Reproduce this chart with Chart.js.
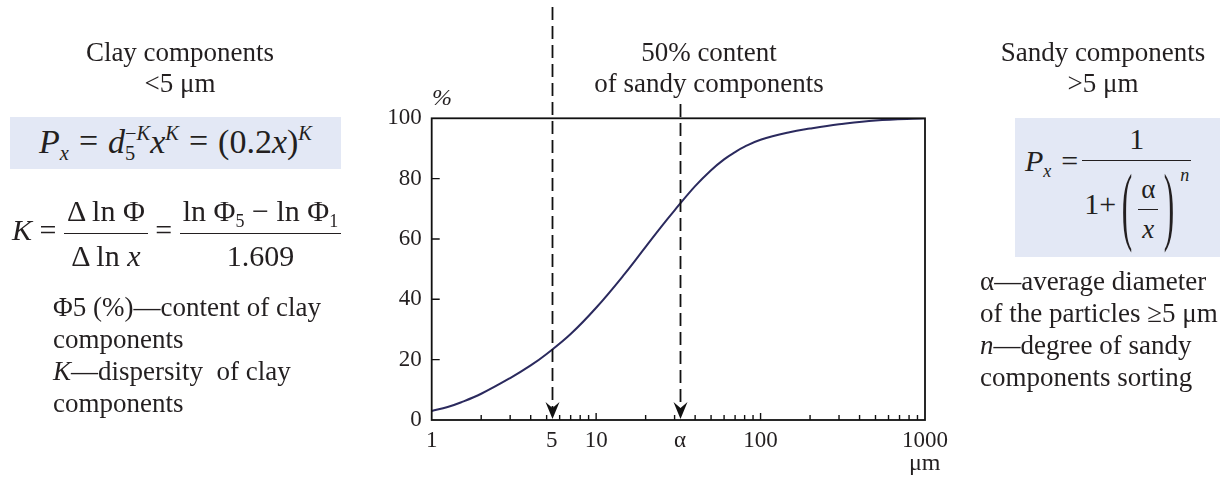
<!DOCTYPE html>
<html>
<head>
<meta charset="utf-8">
<script src="https://cdn.jsdelivr.net/npm/chart.js@4.4.1/dist/chart.umd.min.js"></script>
<style>
  html,body{margin:0;padding:0;background:#fff;}
  body{width:1220px;height:479px;position:relative;overflow:hidden;font-family:"Liberation Serif","Times New Roman",serif;color:#231f20;}
  #c{position:absolute;left:0;top:0;}
  .t{position:absolute;white-space:nowrap;font-size:27px;line-height:32px;}
  .ctr{text-align:center;}
  .box{position:absolute;background:#e3e8f5;display:flex;align-items:center;}
  .f{white-space:nowrap;line-height:1;}
  .sb{font-size:0.6em;line-height:0;vertical-align:-0.36em;}
  .sp{font-size:0.6em;line-height:0;vertical-align:0.62em;}
  .ss{display:inline-flex;flex-direction:column;font-size:0.6em;line-height:1.0;vertical-align:0.62em;}
  .fr{display:inline-flex;flex-direction:column;align-items:center;}
  .fr>.n{padding:0 3px;}
  .fr>.d{border-top:1.5px solid #231f20;padding:0 3px;width:100%;text-align:center;box-sizing:border-box;}
  .bp{display:inline-block;transform:scale(1.05,2.9);margin:0 6px;}
  .op{padding:0 10px;}
</style>
</head>
<body>
<canvas id="c" width="1220" height="479"></canvas>

<!-- left column -->
<div class="t ctr" style="left:50px;top:37px;width:260px;line-height:31px;">Clay components<br>&lt;5 μm</div>
<div class="box" style="left:10px;top:117px;width:331px;height:52px;justify-content:center;">
  <span class="f" style="font-size:34px;"><i>P</i><span class="sb"><i>x</i></span><span class="op">=</span><i>d</i><span class="ss"><span>−<i>K</i></span><span>5</span></span><i>x</i><span class="sp"><i>K</i></span><span class="op">=</span>(0.2<i>x</i>)<span class="sp"><i>K</i></span></span>
</div>
<div class="t f" style="left:12px;top:196px;font-size:30px;line-height:1;">
  <i>K</i> = <span class="fr" style="vertical-align:19px;"><span class="n" style="padding-bottom:7px;">Δ ln Φ</span><span class="d" style="padding-top:7px;">Δ ln <i>x</i></span></span> = <span class="fr" style="vertical-align:19px;"><span class="n" style="padding-bottom:7px;">ln Φ<span class="sb">5</span> − ln Φ<span class="sb">1</span></span><span class="d" style="padding-top:7px;">1.609</span></span>
</div>
<div class="t" style="left:53px;top:291px;">Φ5 (%)—content of clay<br>components<br><i>K</i>—dispersity&nbsp; of clay<br>components</div>

<!-- middle -->
<div class="t ctr" style="left:579px;top:37px;width:260px;line-height:31px;">50% content<br>of sandy components</div>
<div class="t" style="left:432px;top:84px;font-size:24px;line-height:26px;"><i>%</i></div>
<div class="t" style="left:909px;top:449px;font-size:24px;line-height:26px;">μm</div>

<!-- right column -->
<div class="t ctr" style="left:973px;top:37px;width:260px;line-height:31px;">Sandy components<br>&gt;5 μm</div>
<div class="box" style="left:1015px;top:118px;width:205px;height:139px;justify-content:flex-start;">
  <span class="f" style="font-size:30px;padding-left:10px;position:relative;top:-4px;"><i>P</i><span class="sb"><i>x</i></span><span class="op" style="padding:0 4px 0 10px;">=</span><span class="fr" style="vertical-align:22px;"><span class="n" style="padding-bottom:6px;">1</span><span class="d" style="padding:14px 2px 0 2px;">1+<span class="bp">(</span><span class="fr" style="font-size:27px;vertical-align:17px;"><span class="n" style="padding-bottom:6px;">α</span><span class="d" style="padding-top:6px;"><i>x</i></span></span><span class="bp">)</span><span style="font-size:0.6em;vertical-align:1.85em;line-height:0;"><i>n</i></span></span></span></span>
</div>
<div class="t" style="left:980px;top:265px;">α—average diameter<br>of the particles ≥5 μm<br><i>n</i>—degree of sandy<br>components sorting</div>

<script>
// ---- data ----
const sizes   = [1, 1.25, 1.5, 2, 3, 4, 5, 7, 10, 15, 20, 25, 30, 40, 50, 60, 70, 80, 100, 150, 200, 300, 500, 1000]; // µm
const content = [3, 4.3, 5.8, 8.7, 13.9, 18.1, 21.9, 28.5, 37.2, 48.6, 57.4, 64.2, 69.5, 77.5, 82.8, 86.4, 88.8, 90.6, 92.9, 95.4, 96.6, 98, 99.3, 100]; // %
const xTickValues = [1, 5.37, 10, 32.4, 100, 1000];
const xTickLabels = ['1', '5', '10', 'α', '100', '1000'];
const yTickValues = [0, 20, 40, 60, 80, 100];
const minorXTicks = [2,3,4,5,6,7,8,9,20,30,40,50,60,70,80,90,200,300,400,500,600,700,800,900];
const majorXTicks = [10, 100];
const markerSizes = [5.37, 32.4];   // dashed arrows: d5 and alpha

const INK = '#231f20';
const FONT = {family: "'Liberation Serif','Times New Roman',serif", size: 23};

const decor = {
  id: 'decor',
  afterDraw(chart) {
    const {ctx, chartArea: a, scales: {x, y}} = chart;
    ctx.save();
    ctx.strokeStyle = '#111';
    ctx.lineWidth = 1.8;
    ctx.strokeRect(a.left, a.top, a.right - a.left, a.bottom - a.top);
    // ticks pointing into the plot
    ctx.lineWidth = 1.4;
    ctx.beginPath();
    minorXTicks.forEach(v => { const px = x.getPixelForValue(v); ctx.moveTo(px, a.bottom); ctx.lineTo(px, a.bottom - 5); });
    majorXTicks.forEach(v => { const px = x.getPixelForValue(v); ctx.moveTo(px, a.bottom); ctx.lineTo(px, a.bottom - 7); });
    yTickValues.slice(1, -1).forEach(v => { const py = y.getPixelForValue(v); ctx.moveTo(a.left, py); ctx.lineTo(a.left + 8, py); });
    ctx.stroke();
    // dashed arrows
    const tops = [7, 104];
    markerSizes.forEach((v, i) => {
      const px = Math.round(x.getPixelForValue(v)) + 0.5;
      ctx.setLineDash([13, 6]);
      ctx.lineWidth = 1.8;
      ctx.strokeStyle = '#111';
      ctx.beginPath();
      ctx.moveTo(px, tops[i]);
      ctx.lineTo(px, a.bottom - 10);
      ctx.stroke();
      ctx.setLineDash([]);
      ctx.fillStyle = '#111';
      ctx.beginPath();
      ctx.moveTo(px, a.bottom - 1);
      ctx.lineTo(px - 7, a.bottom - 18);
      ctx.lineTo(px, a.bottom - 12);
      ctx.lineTo(px + 7, a.bottom - 18);
      ctx.closePath();
      ctx.fill();
    });
    ctx.restore();
  }
};

new Chart(document.getElementById('c'), {
  type: 'line',
  data: {
    datasets: [{
      data: sizes.map((s, i) => ({x: s, y: content[i]})),
      borderColor: '#2b2a5e',
      borderWidth: 2,
      pointRadius: 0,
      fill: false,
      tension: 0.4
    }]
  },
  options: {
    responsive: false,
    animation: false,
    events: [],
    layout: {padding: {left: 371.7, right: 295, top: 118.3, bottom: 0}},
    plugins: {legend: {display: false}, tooltip: {enabled: false}},
    scales: {
      x: {
        type: 'logarithmic', min: 1, max: 1000,
        grid: {display: false, drawTicks: false},
        border: {display: false},
        afterBuildTicks: s => { s.ticks = xTickValues.map(v => ({value: v})); },
        afterFit: s => { s.height = 59; },
        ticks: {autoSkip: false, maxRotation: 0, minRotation: 0, padding: 7, color: INK, font: FONT,
                callback: (v, i) => xTickLabels[i]}
      },
      y: {
        min: 0, max: 100,
        grid: {display: false, drawTicks: false},
        border: {display: false},
        afterBuildTicks: s => { s.ticks = yTickValues.map(v => ({value: v})); },
        afterFit: s => { s.width = 60; },
        ticks: {padding: 10, color: INK, font: FONT, callback: v => String(v)}
      }
    }
  },
  plugins: [decor]
});
</script>
</body>
</html>
